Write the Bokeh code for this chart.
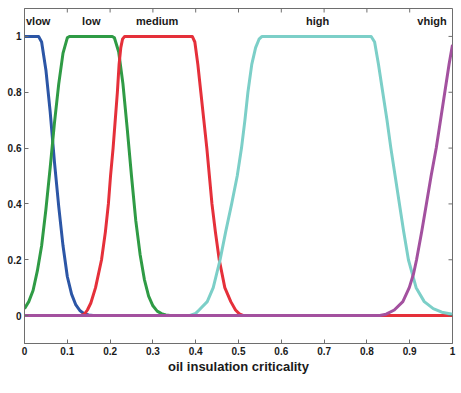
import math
from bokeh.plotting import figure
from bokeh.models import Range1d, FixedTicker
from bokeh.core.properties import value
from bokeh.embed import file_html
from bokeh.resources import INLINE

# ---- ticks ----
x_ticks = [0, 0.1, 0.2, 0.3, 0.4, 0.5, 0.6, 0.7, 0.8, 0.9, 1]
x_tick_labels = ["0", "0.1", "0.2", "0.3", "0.4", "0.5", "0.6", "0.7", "0.8", "0.9", "1"]
y_ticks = [0, 0.2, 0.4, 0.6, 0.8, 1]
y_tick_labels = ["0", "0.2", "0.4", "0.6", "0.8", "1"]

# ---- membership curves ----
vlow_x = [0, 0.033, 0.04, 0.05, 0.06, 0.07, 0.08, 0.09, 0.10, 0.11, 0.12, 0.13, 0.14, 0.15, 0.16, 1.0]
vlow_y = [1, 1, 0.98, 0.88, 0.73, 0.55, 0.39, 0.25, 0.14, 0.077, 0.038, 0.017, 0.006, 0.002, 0, 0]

low_x = [0, 0.01, 0.02, 0.03, 0.04, 0.05, 0.06, 0.07, 0.08, 0.09, 0.10, 0.105,
         0.205, 0.21, 0.22, 0.23, 0.24, 0.25, 0.26, 0.27, 0.28, 0.29, 0.30, 0.31, 0.32, 0.33, 0.34, 1.0]
low_y = [0.025, 0.05, 0.09, 0.16, 0.25, 0.38, 0.53, 0.69, 0.83, 0.94, 0.995, 1,
         1, 0.995, 0.945, 0.83, 0.67, 0.50, 0.34, 0.22, 0.13, 0.07, 0.035, 0.016, 0.007, 0.002, 0, 0]

medium_x = [0, 0.13, 0.14, 0.147, 0.155, 0.166, 0.180, 0.189, 0.196, 0.201, 0.207, 0.212, 0.217, 0.221, 0.225, 0.229, 0.234,
            0.392, 0.398, 0.405, 0.412, 0.419, 0.426, 0.432, 0.438, 0.446, 0.455, 0.468, 0.482, 0.493, 0.502, 0.512, 1.0]
medium_y = [0, 0, 0.005, 0.02, 0.045, 0.1, 0.2, 0.3, 0.4, 0.5, 0.6, 0.7, 0.8, 0.9, 0.96, 0.99, 1,
            1, 0.98, 0.9, 0.8, 0.7, 0.6, 0.5, 0.4, 0.3, 0.2, 0.1, 0.05, 0.02, 0.006, 0, 0]

high_x = [0, 0.385, 0.400, 0.408, 0.427, 0.441, 0.457, 0.470, 0.484, 0.497, 0.507, 0.515, 0.522, 0.531, 0.540, 0.548, 0.555,
          0.810, 0.818, 0.827, 0.837, 0.847, 0.856, 0.866, 0.876, 0.886, 0.897, 0.915, 0.934, 0.955, 0.975, 1.0]
high_y = [0, 0, 0.008, 0.02, 0.05, 0.1, 0.2, 0.3, 0.4, 0.5, 0.6, 0.7, 0.8, 0.9, 0.96, 0.99, 1,
          1, 0.98, 0.9, 0.8, 0.7, 0.6, 0.5, 0.4, 0.3, 0.2, 0.1, 0.05, 0.025, 0.012, 0.005]

vhigh_x = [0, 0.83, 0.845, 0.864, 0.884, 0.899, 0.909, 0.916, 0.928, 0.939, 0.950, 0.962, 0.972, 0.982, 0.992, 1.0]
vhigh_y = [0, 0, 0.005, 0.02, 0.05, 0.1, 0.15, 0.2, 0.3, 0.4, 0.5, 0.6, 0.7, 0.8, 0.9, 0.97]

label_names = ["vlow", "low", "medium", "high", "vhigh"]
label_x = [0.032, 0.156, 0.310, 0.685, 0.952]
label_y = [1.055, 1.055, 1.055, 1.055, 1.055]

X_MIN, X_MAX = 0, 1
Y_MIN, Y_MAX = -0.1, 1.1

FONT = "Liberation Sans"
AXIS_COLOR = "#6e6e6e"

p = figure(width=458, height=382,
           x_range=Range1d(X_MIN, X_MAX), y_range=Range1d(Y_MIN, Y_MAX),
           output_backend="svg", toolbar_location=None,
           min_border_left=24, min_border_right=6, min_border_top=8, min_border_bottom=39)
p.grid.visible = False
p.outline_line_color = AXIS_COLOR
p.background_fill_color = "white"
p.border_fill_color = "white"

curves = [
    (vlow_x, vlow_y, "#2c56a6"),
    (low_x, low_y, "#2f9b45"),
    (medium_x, medium_y, "#e5303a"),
    (high_x, high_y, "#7ccfc8"),
    (vhigh_x, vhigh_y, "#a3519f"),
]
for xs, ys, c in curves:
    p.line(xs, ys, line_color=c, line_width=3, line_join="round")

p.text(x=label_x, y=label_y, text=label_names, text_align="center", text_baseline="middle",
       text_font=value(FONT), text_font_style="bold", text_font_size="11px", text_color="#1a1a1a")

# inward tick marks on the top and right edges of the box (MATLAB style)
p.ray(x=x_ticks, y=[Y_MAX] * len(x_ticks), length=4, length_units="screen",
      angle=-math.pi / 2, line_color=AXIS_COLOR, line_width=1)
p.ray(x=[X_MAX] * len(y_ticks), y=y_ticks, length=4, length_units="screen",
      angle=math.pi, line_color=AXIS_COLOR, line_width=1)

for ax in (p.xaxis[0], p.yaxis[0]):
    ax.major_label_text_font = FONT
    ax.major_label_text_font_style = "bold"
    ax.major_label_text_font_size = "10px"
    ax.major_label_text_color = "#1a1a1a"
    ax.major_tick_in = 4
    ax.major_tick_out = 0
    ax.minor_tick_line_color = None
    ax.axis_line_color = AXIS_COLOR
    ax.major_tick_line_color = AXIS_COLOR

p.yaxis.major_label_standoff = 3
p.xaxis.major_label_standoff = 3

p.xaxis.ticker = FixedTicker(ticks=x_ticks)
p.xaxis.major_label_overrides = dict(zip(x_ticks, x_tick_labels))
p.yaxis.ticker = FixedTicker(ticks=y_ticks)
p.yaxis.major_label_overrides = dict(zip(y_ticks, y_tick_labels))

p.xaxis.axis_label = "oil insulation criticality"
p.xaxis.axis_label_text_font = FONT
p.xaxis.axis_label_text_font_style = "bold"
p.xaxis.axis_label_text_font_size = "13px"
p.xaxis.axis_label_text_color = "#1a1a1a"
p.xaxis.axis_label_standoff = 1

open("out.html", "w").write(file_html(p, INLINE))
